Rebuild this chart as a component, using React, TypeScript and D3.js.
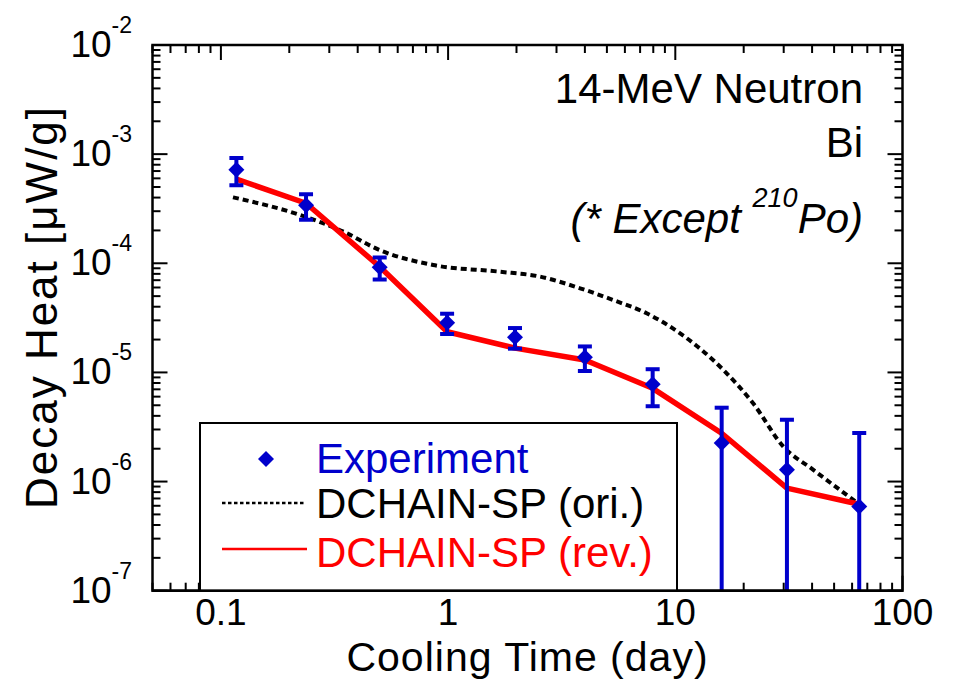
import React from 'react';
import * as d3 from 'd3';

const expTime = [0.117, 0.237, 0.5, 0.99, 1.97, 4.0, 7.95, 16.0, 31.0, 64.5];
const expValue = [7.2e-4, 3.4e-4, 9.2e-5, 2.85e-5, 2.1e-5, 1.38e-5, 7.8e-6, 2.25e-6, 1.28e-6, 5.9e-7];
const expError = [2.0e-4, 0.9e-4, 2.1e-5, 6e-6, 4.5e-6, 3.5e-6, 2.9e-6, 2.5e-6, 2.4e-6, 2.2e-6];

const revTime = [0.117, 0.237, 0.5, 0.99, 1.97, 4.0, 7.95, 16.0, 31.0, 64.5];
const revValue = [5.9e-4, 3.55e-4, 9.3e-5, 2.36e-5, 1.67e-5, 1.3e-5, 7.15e-6, 2.77e-6, 8.7e-7, 6.2e-7];

const oriTime = [0.113, 0.223, 0.346, 0.5, 0.86, 1.69, 2.5, 3.81, 5.32, 7.48, 10.5, 16.3, 22.0, 29.9, 40.5, 64.5];
const oriValue = [4.02e-4, 2.77e-4, 1.95e-4, 1.32e-4, 9.64e-5, 8.37e-5, 7.6e-5, 5.9e-5, 4.61e-5, 3.48e-5, 2.28e-5, 1.05e-5, 5.21e-6, 2.09e-6, 1.28e-6, 6.2e-7];

const xTickLabels = ['0.1', '1', '10', '100'];
const xTickValues = [0.1, 1, 10, 100];
const yTickExponents = [-2, -3, -4, -5, -6, -7];

const W = 958;
const H = 681;
const L = 152.5, R = 902.5, T = 45, B = 590.7;
const BLUE = '#0000cc';
const FONT = '"Liberation Sans", Arial, sans-serif';

export default function App() {
  const x = d3.scaleLog().domain([0.05, 100]).range([L, R]);
  const y = d3.scaleLog().domain([1e-7, 1e-2]).range([B, T]);

  const xMajor: number[] = [];
  const xMinor: number[] = [];
  for (let d = -2; d <= 2; d++) {
    for (let k = 1; k <= 9; k++) {
      const v = k * Math.pow(10, d);
      if (v < 0.05 - 1e-9 || v > 100 + 1e-9) continue;
      if (k === 1) xMajor.push(v); else xMinor.push(v);
    }
  }
  const yMajor: number[] = [];
  const yMinor: number[] = [];
  for (let d = -7; d <= -2; d++) {
    for (let k = 1; k <= 9; k++) {
      const v = k * Math.pow(10, d);
      if (v > 1e-2 * 1.0001) continue;
      if (k === 1) yMajor.push(v); else yMinor.push(v);
    }
  }
  const MAJ = 15, MIN = 8;

  const line = d3.line<[number, number]>().x(d => x(d[0])).y(d => y(d[1]));
  const oriLine = d3.line<[number, number]>().x(d => x(d[0])).y(d => y(d[1])).curve(d3.curveMonotoneX);

  const revPath = line(revTime.map((t, i) => [t, revValue[i]]))!;
  const oriPath = oriLine(oriTime.map((t, i) => [t, oriValue[i]]))!;

  const diamond = (cx: number, cy: number, r: number) =>
    `M${cx},${cy - r}L${cx + r},${cy}L${cx},${cy + r}L${cx - r},${cy}Z`;

  return (
    <svg width={W} height={H} style={{ position: 'absolute', left: 0, top: 0, background: '#fff' }}
      fontFamily={FONT}>
      <defs>
        <clipPath id="plotclip">
          <rect x={L} y={T} width={R - L} height={B - T} />
        </clipPath>
      </defs>
      <rect x={0} y={0} width={W} height={H} fill="#fff" />

      <g stroke="#000" strokeWidth={2}>
        {xMajor.map(v => (
          <g key={'xM' + v}>
            <line x1={x(v)} x2={x(v)} y1={B} y2={B - MAJ} />
            <line x1={x(v)} x2={x(v)} y1={T} y2={T + MAJ} />
          </g>
        ))}
        {xMinor.map(v => (
          <g key={'xm' + v}>
            <line x1={x(v)} x2={x(v)} y1={B} y2={B - MIN} />
            <line x1={x(v)} x2={x(v)} y1={T} y2={T + MIN} />
          </g>
        ))}
        {yMajor.map(v => (
          <g key={'yM' + v}>
            <line x1={L} x2={L + MAJ} y1={y(v)} y2={y(v)} />
            <line x1={R} x2={R - MAJ} y1={y(v)} y2={y(v)} />
          </g>
        ))}
        {yMinor.map(v => (
          <g key={'ym' + v}>
            <line x1={L} x2={L + MIN} y1={y(v)} y2={y(v)} />
            <line x1={R} x2={R - MIN} y1={y(v)} y2={y(v)} />
          </g>
        ))}
      </g>

      <g clipPath="url(#plotclip)">
        <path d={oriPath} fill="none" stroke="#000" strokeWidth={4} strokeDasharray="6,4" />
        <path d={revPath} fill="none" stroke="#ff0000" strokeWidth={5.5} strokeLinejoin="round" />
        {expTime.map((t, i) => {
          const cx = x(t);
          const hi = expValue[i] + expError[i];
          const lo = expValue[i] - expError[i];
          const yHi = y(hi);
          const yLo = lo > 0 ? y(lo) : B + 20;
          return (
            <g key={'e' + i}>
              <line x1={cx} x2={cx} y1={yHi} y2={yLo} stroke={BLUE} strokeWidth={4} />
              <line x1={cx - 7} x2={cx + 7} y1={yHi} y2={yHi} stroke={BLUE} strokeWidth={4} />
              {lo > 0 && <line x1={cx - 7} x2={cx + 7} y1={yLo} y2={yLo} stroke={BLUE} strokeWidth={4} />}
              <path d={diamond(cx, y(expValue[i]), 8)} fill={BLUE} />
            </g>
          );
        })}
      </g>

      <rect x={L} y={T} width={R - L} height={B - T} fill="none" stroke="#000" strokeWidth={2.5} />

      <rect x={200} y={423} width={477} height={B - 423} fill="#fff" stroke="#000" strokeWidth={2} />
      <path d={diamond(266, 459, 8)} fill={BLUE} />
      <text x={316} y={473} fontSize={42} fill={BLUE}>Experiment</text>
      <line x1={222} x2={305} y1={503} y2={503} stroke="#000" strokeWidth={2.5} strokeDasharray="3.5,2.5" />
      <text x={316} y={518} fontSize={42} fill="#000">DCHAIN-SP (ori.)</text>
      <line x1={222} x2={307} y1={549} y2={549} stroke="#ff0000" strokeWidth={2.5} />
      <text x={316} y={567} fontSize={42} fill="#ff0000">DCHAIN-SP (rev.)</text>
      <line x1={L} x2={R} y1={B} y2={B} stroke="#000" strokeWidth={2.5} />

      {xTickValues.map((v, i) => (
        <text key={'xl' + i} x={x(v)} y={625} fontSize={37} textAnchor="middle">{xTickLabels[i]}</text>
      ))}
      {yTickExponents.map(e => (
        <text key={'yl' + e} x={132} y={y(Math.pow(10, e)) + 12} fontSize={37} textAnchor="end">
          10<tspan dy={-24} fontSize={23}>{String(e)}</tspan>
        </text>
      ))}

      <text x={(L + R) / 2} y={671} fontSize={41} letterSpacing={1} textAnchor="middle">Cooling Time (day)</text>
      <text transform={`translate(57,307) rotate(-90)`} fontSize={44} letterSpacing={2} textAnchor="middle">Decay Heat [μW/g]</text>

      <text x={863} y={103} fontSize={42} textAnchor="end">14-MeV Neutron</text>
      <text x={863} y={157} fontSize={42} textAnchor="end">Bi</text>
      <text x={863} y={233} fontSize={42} textAnchor="end" fontStyle="italic">
        (* Except <tspan dy={-26} fontSize={27}>210</tspan><tspan dy={26}>Po)</tspan>
      </text>
    </svg>
  );
}
